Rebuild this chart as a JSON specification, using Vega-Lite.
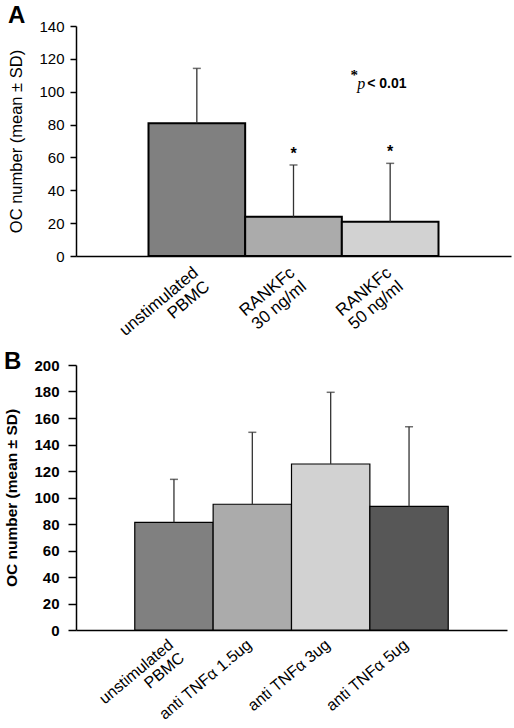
{
  "$schema": "https://vega.github.io/schema/vega-lite/v6.json",
  "padding": {"left": 4, "top": 4, "right": 4, "bottom": 0},
  "background": "white",
  "spacing": -3,
  "config": {
    "font": "Liberation Sans",
    "view": {"stroke": null},
    "axisY": {"domainColor": "black", "domainWidth": 1.5, "tickColor": "black", "tickSize": 6, "tickWidth": 1.5, "labelFontSize": 15, "labelColor": "black", "labelPadding": 6, "labelOverlap": false, "titleFontSize": 15, "titleColor": "black", "titlePadding": 13, "grid": false},
    "axisX": {"domainColor": "black", "domainWidth": 1.5, "ticks": false, "labelAngle": -40, "labelAlign": "right", "labelBaseline": "top", "labelPadding": 7, "labelFontSize": 17, "labelColor": "black", "labelLineHeight": 18, "labelOverlap": false, "title": null}
  },
  "datasets": {
    "A": [
      {"condition": "unstimulated|PBMC", "mean": 80.8, "upper": 114.2, "star": "", "pattern": "checker"},
      {"condition": "RANKFc|30 ng/ml", "mean": 23.9, "upper": 55.4, "star": "*", "pattern": "diagonal"},
      {"condition": "RANKFc|50 ng/ml", "mean": 20.9, "upper": 56.4, "star": "*", "pattern": "wave"}
    ],
    "B": [
      {"condition": "unstimulated|PBMC", "mean": 81.3, "upper": 113.7, "pattern": "checker"},
      {"condition": "anti TNFα 1.5ug", "mean": 94.9, "upper": 149.2, "pattern": "diagonal"},
      {"condition": "anti TNFα 3ug", "mean": 125.3, "upper": 179.4, "pattern": "wave"},
      {"condition": "anti TNFα 5ug", "mean": 93.3, "upper": 153.4, "pattern": "darkchecker"}
    ]
  },
  "vconcat": [
    {
      "title": {"text": "A", "anchor": "start", "frame": "bounds", "fontSize": 24, "fontWeight": "bold", "offset": -9, "color": "black"},
      "width": 435,
      "height": 230,
      "data": {"name": "A"},
      "encoding": {
        "x": {"field": "condition", "type": "nominal", "sort": null, "scale": {"type": "band", "paddingInner": 0, "paddingOuter": 0.75}, "axis": {"labelExpr": "split(datum.label, '|')", "labelOffset": -6, "labelPadding": 8}}
      },
      "layer": [
        {
          "mark": {"type": "bar", "stroke": "black", "strokeWidth": 2},
          "encoding": {
            "y": {"field": "mean", "type": "quantitative", "scale": {"domain": [0, 140], "nice": false}, "axis": {"values": [0, 20, 40, 60, 80, 100, 120, 140], "title": "OC number (mean ± SD)", "titleFontWeight": "normal", "titleFontSize": 16.5, "minExtent": 39, "maxExtent": 39}},
            "fill": {"field": "pattern", "type": "nominal", "scale": {"domain": ["checker", "diagonal", "wave", "darkchecker"], "range": ["#808080", "#ababab", "#d2d2d2", "#575757"]}, "legend": null}
          }
        },
        {
          "mark": {"type": "rule", "color": "#333333", "strokeWidth": 1.3},
          "encoding": {"y": {"field": "mean", "type": "quantitative", "axis": {"values": [0, 20, 40, 60, 80, 100, 120, 140], "title": "OC number (mean ± SD)", "titleFontWeight": "normal", "titleFontSize": 16.5, "minExtent": 39, "maxExtent": 39}}, "y2": {"field": "upper"}}
        },
        {
          "mark": {"type": "tick", "color": "#333333", "size": 8, "thickness": 1.5},
          "encoding": {"y": {"field": "upper", "type": "quantitative", "axis": {"values": [0, 20, 40, 60, 80, 100, 120, 140], "title": "OC number (mean ± SD)", "titleFontWeight": "normal", "titleFontSize": 16.5, "minExtent": 39, "maxExtent": 39}}}
        },
        {
          "mark": {"type": "text", "fontSize": 16, "fontWeight": "bold", "baseline": "bottom", "dy": -3, "color": "black"},
          "encoding": {"y": {"field": "upper", "type": "quantitative", "axis": {"values": [0, 20, 40, 60, 80, 100, 120, 140], "title": "OC number (mean ± SD)", "titleFontWeight": "normal", "titleFontSize": 16.5, "minExtent": 39, "maxExtent": 39}}, "text": {"field": "star"}}
        },
        {
          "data": {"values": [{"condition": "RANKFc|50 ng/ml", "y": 110, "part": "*"}]},
          "mark": {"type": "text", "fontSize": 15, "fontWeight": "bold", "font": "Liberation Serif", "align": "center", "baseline": "middle", "dx": -36, "color": "black"},
          "encoding": {"y": {"field": "y", "type": "quantitative", "axis": {"values": [0, 20, 40, 60, 80, 100, 120, 140], "title": "OC number (mean ± SD)", "titleFontWeight": "normal", "titleFontSize": 16.5, "minExtent": 39, "maxExtent": 39}}, "text": {"field": "part"}}
        },
        {
          "data": {"values": [{"condition": "RANKFc|50 ng/ml", "y": 105, "part": "p"}]},
          "mark": {"type": "text", "fontSize": 16, "fontStyle": "italic", "font": "Liberation Serif", "align": "center", "baseline": "middle", "dx": -29, "color": "black"},
          "encoding": {"y": {"field": "y", "type": "quantitative", "axis": {"values": [0, 20, 40, 60, 80, 100, 120, 140], "title": "OC number (mean ± SD)", "titleFontWeight": "normal", "titleFontSize": 16.5, "minExtent": 39, "maxExtent": 39}}, "text": {"field": "part"}}
        },
        {
          "data": {"values": [{"condition": "RANKFc|50 ng/ml", "y": 105, "part": "< 0.01"}]},
          "mark": {"type": "text", "fontSize": 14, "fontWeight": "bold", "font": "Liberation Sans", "align": "left", "baseline": "middle", "dx": -23, "color": "black"},
          "encoding": {"y": {"field": "y", "type": "quantitative", "axis": {"values": [0, 20, 40, 60, 80, 100, 120, 140], "title": "OC number (mean ± SD)", "titleFontWeight": "normal", "titleFontSize": 16.5, "minExtent": 39, "maxExtent": 39}}, "text": {"field": "part"}}
        }
      ]
    },
    {
      "title": {"text": "B", "anchor": "start", "frame": "bounds", "fontSize": 24, "fontWeight": "bold", "offset": -16, "color": "black"},
      "width": 431,
      "height": 265,
      "data": {"name": "B"},
      "encoding": {
        "x": {"field": "condition", "type": "nominal", "sort": null, "scale": {"type": "band", "paddingInner": 0, "paddingOuter": 0.75}, "axis": {"labelExpr": "split(datum.label, '|')", "labelOffset": -8, "labelPadding": 6, "labelFontSize": 16, "labelLineHeight": 17}}
      },
      "layer": [
        {
          "mark": {"type": "bar", "stroke": "black", "strokeWidth": 1.2},
          "encoding": {
            "y": {"field": "mean", "type": "quantitative", "scale": {"domain": [0, 200], "nice": false}, "axis": {"values": [0, 20, 40, 60, 80, 100, 120, 140, 160, 180, 200], "title": "OC number (mean ± SD)", "titleFontWeight": "bold", "titleFontSize": 15.5, "labelFontWeight": "bold", "labelFontSize": 15, "labelPadding": 9, "tickSize": 8, "minExtent": 44, "maxExtent": 44}},
            "fill": {"field": "pattern", "type": "nominal", "scale": {"domain": ["checker", "diagonal", "wave", "darkchecker"], "range": ["#808080", "#ababab", "#d2d2d2", "#575757"]}, "legend": null}
          }
        },
        {
          "mark": {"type": "rule", "color": "#333333", "strokeWidth": 1.3},
          "encoding": {"y": {"field": "mean", "type": "quantitative", "axis": {"values": [0, 20, 40, 60, 80, 100, 120, 140, 160, 180, 200], "title": "OC number (mean ± SD)", "titleFontWeight": "bold", "titleFontSize": 15.5, "labelFontWeight": "bold", "labelFontSize": 15, "labelPadding": 9, "tickSize": 8, "minExtent": 44, "maxExtent": 44}}, "y2": {"field": "upper"}}
        },
        {
          "mark": {"type": "tick", "color": "#333333", "size": 8, "thickness": 1.5},
          "encoding": {"y": {"field": "upper", "type": "quantitative", "axis": {"values": [0, 20, 40, 60, 80, 100, 120, 140, 160, 180, 200], "title": "OC number (mean ± SD)", "titleFontWeight": "bold", "titleFontSize": 15.5, "labelFontWeight": "bold", "labelFontSize": 15, "labelPadding": 9, "tickSize": 8, "minExtent": 44, "maxExtent": 44}}}
        }
      ]
    }
  ]
}
